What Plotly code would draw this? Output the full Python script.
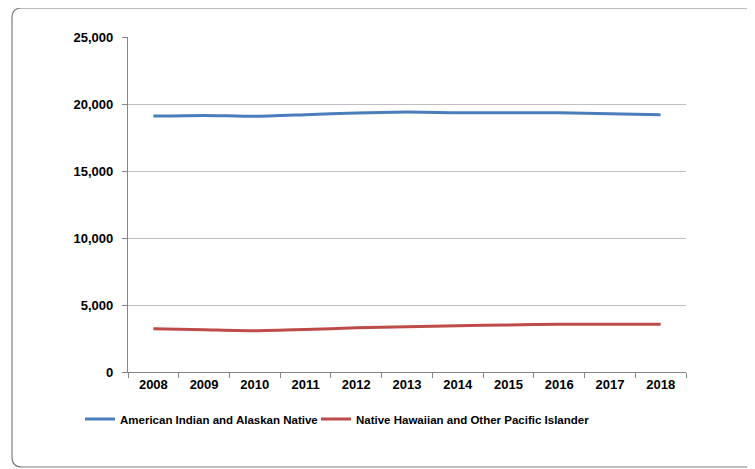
import plotly.graph_objects as go

years = ["2008", "2009", "2010", "2011", "2012", "2013", "2014", "2015", "2016", "2017", "2018"]
american_indian = [19100, 19150, 19080, 19200, 19330, 19400, 19350, 19350, 19350, 19270, 19200]
native_hawaiian = [3220, 3150, 3080, 3170, 3300, 3380, 3450, 3510, 3570, 3570, 3570]
y_ticks = [0, 5000, 10000, 15000, 20000, 25000]
y_labels = ["0", "5,000", "10,000", "15,000", "20,000", "25,000"]

OFF = 8  # page body margin
W, H = 755 - OFF, 469 - OFF
ML, MT = 128 - OFF, 37 - OFF
PR, PB = 686 - OFF, 372 - OFF
MR, MB = W - PR, H - PB
PW, PH = PR - ML, PB - MT

def px(x):
    return (x - OFF - ML) / PW

def py(y):
    return (PB - (y - OFF)) / PH

fig = go.Figure()
fig.add_trace(go.Scatter(x=years, y=american_indian, mode="lines",
                         name="American Indian and Alaskan Native", legend="legend",
                         line=dict(color="#4a7ebb", width=3, shape="spline", smoothing=0.6)))
fig.add_trace(go.Scatter(x=years, y=native_hawaiian, mode="lines",
                         name="Native Hawaiian and Other Pacific Islander", legend="legend2",
                         line=dict(color="#be4b48", width=3, shape="spline", smoothing=0.6)))

# rounded chart border
x0, y0, x1, y1, r = 12, 8, 762, 467, 10
path = (f"M {px(x0 + r)},{py(y0)} L {px(x1 - r)},{py(y0)} "
        f"Q {px(x1)},{py(y0)} {px(x1)},{py(y0 + r)} L {px(x1)},{py(y1 - r)} "
        f"Q {px(x1)},{py(y1)} {px(x1 - r)},{py(y1)} L {px(x0 + r)},{py(y1)} "
        f"Q {px(x0)},{py(y1)} {px(x0)},{py(y1 - r)} L {px(x0)},{py(y0 + r)} "
        f"Q {px(x0)},{py(y0)} {px(x0 + r)},{py(y0)} Z")
fig.add_shape(type="path", path=path, xref="paper", yref="paper",
              line=dict(color="#7f7f7f", width=1.2), layer="below")

tickfont = dict(family="Liberation Sans, Arial, sans-serif", size=13, color="#000000", weight="bold")
legfont = dict(family="Liberation Sans, Arial, sans-serif", size=11.5, color="#000000", weight="bold")

def leg(xpix):
    return dict(orientation="h", x=px(xpix), xanchor="left", y=py(419), yanchor="middle",
                font=legfont, itemwidth=30, tracegroupgap=0, bgcolor="rgba(0,0,0,0)")

fig.update_layout(
    width=W, height=H,
    margin=dict(l=ML, r=MR, t=MT, b=MB),
    paper_bgcolor="white", plot_bgcolor="white",
    showlegend=True,
    legend=leg(80),
    legend2=leg(316),
    xaxis=dict(type="category", range=[-0.5, 10.5], tickson="boundaries",
               ticks="outside", ticklen=5, tickcolor="#868686",
               showline=True, linecolor="#868686", linewidth=1.2,
               showgrid=False, tickfont=tickfont, fixedrange=True),
    yaxis=dict(range=[0, 25000], tickvals=y_ticks, ticktext=y_labels,
               ticks="outside", ticklen=5, tickcolor="#868686",
               showline=True, linecolor="#868686", linewidth=1.2,
               showgrid=True, gridcolor="#bfbfbf", gridwidth=1,
               zeroline=False, tickfont=tickfont, ticklabelstandoff=6, fixedrange=True),
)

fig.write_html("out.html")
